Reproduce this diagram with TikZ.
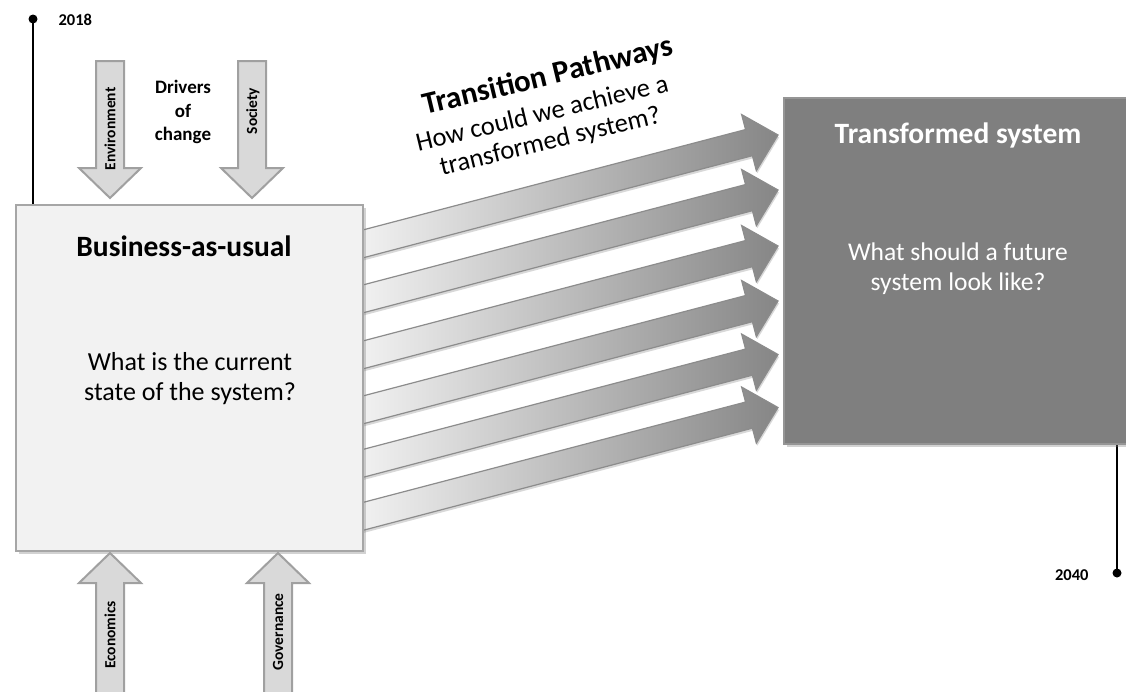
\documentclass[tikz,border=0pt]{standalone}
\usepackage{fontspec}
\setmainfont{Carlito}
\usetikzlibrary{shadows}
\definecolor{boxL}{HTML}{F2F2F2}
\definecolor{boxLb}{HTML}{A6A6A6}
\definecolor{boxR}{HTML}{7F7F7F}
\definecolor{boxRb}{HTML}{959595}
\definecolor{drv}{HTML}{D9D9D9}
\definecolor{drvb}{HTML}{A0A0A0}
\definecolor{arrL}{HTML}{F6F6F6}
\definecolor{arrR}{HTML}{868686}
\definecolor{arrb}{HTML}{8C8C8C}
\begin{document}
\begin{tikzpicture}[x=1pt,y=-1pt,
  pathway/.style={draw=arrb, line width=1.2pt, left color=arrL, right color=arrR,
    drop shadow={opacity=0.3, shadow xshift=1pt, shadow yshift=-2.5pt}},
  driver/.style={draw=drvb, fill=drv, line width=2pt, line join=miter},
  lbox/.style={draw=boxLb, fill=boxL, line width=2pt, inner sep=0pt,
    drop shadow={opacity=0.35, shadow xshift=3pt, shadow yshift=-3pt}},
  rbox/.style={draw=boxRb, fill=boxR, line width=2pt, inner sep=0pt,
    drop shadow={opacity=0.35, shadow xshift=3pt, shadow yshift=-3pt}},
  drvlabel/.style={rotate=90, font=\bfseries\fontsize{15.5}{15.5}\selectfont},
  yearlabel/.style={font=\bfseries\fontsize{16.5}{16.5}\selectfont},
  pathtext/.style={rotate=13.5, anchor=base, inner sep=0pt},
  dotmark/.style={fill=black, circle, inner sep=0pt, minimum size=9pt}]
\useasboundingbox (0,0) rectangle (1126,691);
\fill[white] (0,0) rectangle (1126,691);

% timelines
\node[dotmark] (d18) at (33,19) {};
\coordinate (t18) at (33,205);
\draw[line width=1.3pt] (d18.center) -- (t18);
\node[yearlabel, anchor=west] (y18) at (55,20) {2018};

\node[dotmark] (d40) at (1117,573) {};
\coordinate (t40) at (1117,443);
\draw[line width=1.3pt] (t40) -- (d40.center);
\node[yearlabel, anchor=east] (y40) at (1092,575) {2040};

% pathway arrows
\foreach \ty in {135,190,246,301,354.5,407.5} {
  \begin{scope}[shift={(778,\ty)}, rotate=14.7]
    \path[pathway] (-448,-13.5) -- (-30,-13.5) -- (-30,-29) -- (0,0) -- (-30,29) -- (-30,13.5) -- (-448,13.5) -- cycle;
  \end{scope}
}

% boxes
\node[lbox, minimum width=347pt, minimum height=346pt] (bau) at (189.5,378) {};
\node[rbox, minimum width=360pt, minimum height=346pt, anchor=north west] (ts) at (783,97) {};

% driver arrows
\foreach \c in {110,252} {
  \draw[driver] (\c-14,61) -- (\c+14,61) -- (\c+14,168) -- (\c+31,168) -- (\c,198) -- (\c-31,168) -- (\c-14,168) -- cycle;
}
\foreach \c in {110,278} {
  \draw[driver] (\c,553) -- (\c+31,583) -- (\c+14,583) -- (\c+14,700) -- (\c-14,700) -- (\c-14,583) -- (\c-31,583) -- cycle;
}
\node[drvlabel] (env) at (110,129) {Environment};
\node[drvlabel] (soc) at (253,111) {Society};
\node[drvlabel] (eco) at (110,635) {Economics};
\node[drvlabel] (gov) at (278,632) {Governance};
\node[align=center, font=\bfseries\fontsize{19}{23.5}\selectfont] (drivers) at (183,112) {Drivers\\of\\change};

% texts
\node[font=\bfseries\fontsize{29.5}{32}\selectfont] (baut) at (184,246) {Business-as-usual};
\node[align=center, font=\fontsize{26}{30}\selectfont] (bauq) at (190,379) {What is the current\\state of the system?};
\node[text=white, font=\bfseries\fontsize{29.5}{32}\selectfont] (tst) at (958,135) {Transformed system};
\node[text=white, align=center, font=\fontsize{25.5}{30}\selectfont] (tsq) at (958,269) {What should a future\\system look like?};

\node[pathtext, font=\bfseries\fontsize{31}{31}\selectfont] (trans1) at (550,85) {Transition Pathways};
\node[pathtext, font=\fontsize{26.5}{26.5}\selectfont] (trans2) at (544,121.5) {How could we achieve a};
\node[pathtext, font=\fontsize{26.5}{26.5}\selectfont] (trans3) at (552,149) {transformed system?};
\end{tikzpicture}
\end{document}
